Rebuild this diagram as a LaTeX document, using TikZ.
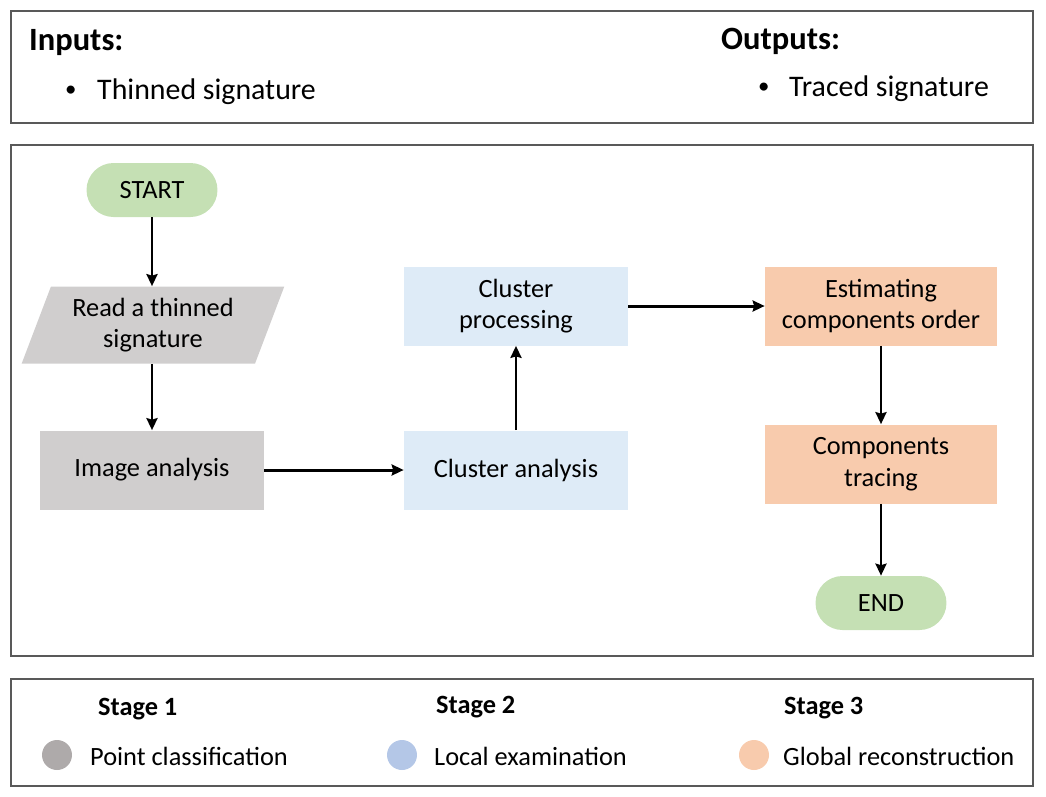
\documentclass[tikz,border=0pt]{standalone}
\usepackage{fontspec}
\setmainfont{Carlito}
\usetikzlibrary{shapes.geometric,arrows.meta}
\definecolor{startgreen}{HTML}{C5E0B4}
\definecolor{stagegray}{HTML}{D0CECE}
\definecolor{stageblue}{HTML}{DEEBF7}
\definecolor{stageorange}{HTML}{F8CBAD}
\definecolor{dotgray}{HTML}{AEAAAA}
\definecolor{dotblue}{HTML}{B4C7E7}
\definecolor{framegray}{HTML}{595959}
\begin{document}
\begin{tikzpicture}[x=0.02cm,y=-0.02cm,->,>={Stealth[length=2.4mm,width=2.2mm,inset=0.3mm]},font=\fontsize{15}{18}\selectfont,
    arrowline/.style={line width=1.7pt},
    frame/.style={-,draw=framegray,line width=0.6pt},
    pill/.style={fill=startgreen,rounded corners=0.54cm,minimum width=2.62cm,minimum height=1.08cm,inner sep=0pt},
    proc/.style={minimum width=4.48cm,minimum height=1.58cm,inner sep=0pt,align=center},
    readbox/.style={trapezium,trapezium left angle=67,trapezium right angle=113,trapezium stretches=true,
        fill=stagegray,minimum width=5.26cm,minimum height=1.54cm,inner sep=0pt,align=center},
    dot/.style={circle,minimum size=0.6cm,inner sep=0pt},
    head/.style={anchor=west,font=\fontsize{18.5}{22}\selectfont\bfseries},
    item/.style={anchor=west,font=\fontsize{17}{20}\selectfont},
    stagehead/.style={anchor=west,font=\fontsize{15}{18}\selectfont\bfseries},
    legend/.style={anchor=west}]
    \useasboundingbox (0,0) rectangle (1046,796);
    % frames
    \draw[frame] (11,11) rectangle (1033,123);
    \draw[frame] (11,145) rectangle (1033,656);
    \draw[frame] (11,679) rectangle (1033,786);

    % inputs / outputs
    \node[head] (inputs) at (23,43) {Inputs:};
    \node[item] (inbullet) at (59,91) {\fontsize{13}{13}\selectfont\textbullet};
    \node[item] (inputitem) at (91,92) {Thinned signature};
    \node[head] (outputs) at (715,41) {Outputs:};
    \node[item] (outbullet) at (752,88) {\fontsize{13}{13}\selectfont\textbullet};
    \node[item] (outputitem) at (783,89) {Traced signature};

    % flow chart
    \node[pill] (start) at (152,190) {START};
    \node[readbox] (read) at (153,325) {Read a thinned\\signature};
    \node[proc,fill=stagegray] (image) at (152,470) {Image analysis};
    \node[proc,fill=stageblue] (clusteranalysis) at (516,470) {Cluster analysis};
    \node[proc,fill=stageblue] (clusterproc) at (516,306) {Cluster\\processing};
    \node[proc,fill=stageorange,minimum width=4.64cm] (order) at (881,306) {Estimating\\components order};
    \node[proc,fill=stageorange,minimum width=4.64cm] (tracing) at (881,464) {Components\\tracing};
    \node[pill] (end) at (881,603) {END};

    \draw[arrowline] (start.south) -- (start.south |- read.north);
    \draw[arrowline] (image.north |- read.south) -- (image.north);
    \draw[arrowline] (image) -- (clusteranalysis);
    \draw[arrowline] (clusteranalysis) -- (clusterproc);
    \draw[arrowline] (clusterproc) -- (order);
    \draw[arrowline] (order) -- (tracing);
    \draw[arrowline] (tracing) -- (end);

    % legend
    \node[stagehead] (stage1) at (92,709) {Stage 1};
    \node[stagehead] (stage2) at (430,707) {Stage 2};
    \node[stagehead] (stage3) at (778,708) {Stage 3};
    \node[dot,fill=dotgray] (dot1) at (57,755) {};
    \node[dot,fill=dotblue] (dot2) at (402,755) {};
    \node[dot,fill=stageorange] (dot3) at (754,755) {};
    \node[legend] (leg1) at (84,756) {Point classification};
    \node[legend] (leg2) at (428,756) {Local examination};
    \node[legend] (leg3) at (777,756) {Global reconstruction};
\end{tikzpicture}
\end{document}
